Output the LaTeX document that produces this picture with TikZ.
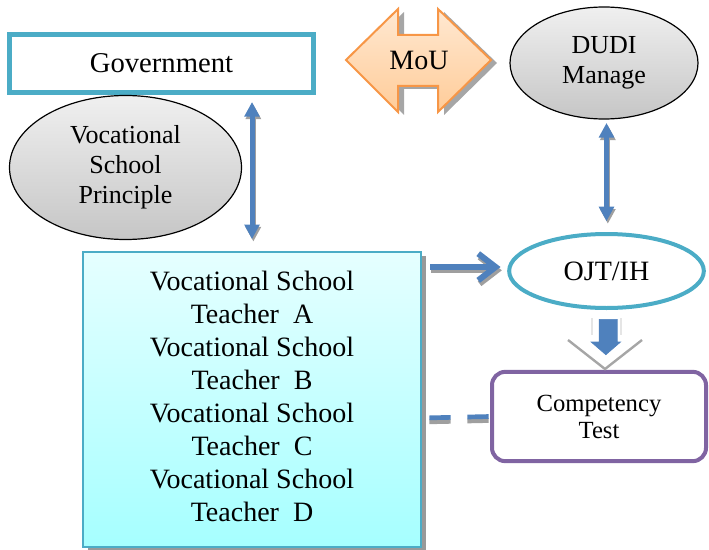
\documentclass[tikz,border=0pt]{standalone}
\usepackage{fontspec}
\setmainfont{Liberation Serif}
\usepackage{tikz}
\usetikzlibrary{positioning,arrows.meta,shapes.geometric,shadows}

\definecolor{tealline}{HTML}{4BACC6}
\definecolor{linkblue}{HTML}{4F81BD}
\definecolor{mouorange}{HTML}{F79646}
\definecolor{testpurple}{HTML}{8064A2}

\begin{document}
\begin{tikzpicture}[x=0.75pt,y=-0.75pt,
    every node/.style={align=center, inner sep=0pt},
    greyoval/.style={ellipse, draw=black, line width=0.9pt, top color=gray!12, bottom color=gray!45},
    dblarrow/.style={linkblue, line width=3.75pt, {Triangle[length=11pt,width=11pt]}-{Triangle[length=11pt,width=11pt]}},
    arrowshade/.style={gray!75, transform canvas={xshift=1pt,yshift=-1.8pt}}]
  \useasboundingbox (0,0) rectangle (709,549);

  % boxes and ovals
  \node[draw=tealline, line width=3.75pt, minimum width=228pt, minimum height=43.5pt,
        font=\fontsize{21.5}{24}\selectfont] (gov) at (161.5,63.5) {Government};
  \node[greyoval, minimum width=174pt, minimum height=108pt,
        font=\fontsize{19.5}{22.5}\selectfont] (principal) at (125.5,167.5) {Vocational\\School\\Principle};
  \node[greyoval, minimum width=141pt, minimum height=84pt,
        font=\fontsize{19.5}{22.5}\selectfont] (dudi) at (604,63) {\raisebox{-4pt}{\begin{tabular}{c}DUDI\\Manage\end{tabular}}};
  \node[ellipse, draw=tealline, line width=3pt, fill=white, minimum width=146pt, minimum height=55.5pt,
        font=\fontsize{21}{24}\selectfont] (ojt) at (606.5,271) {OJT/IH};
  \node[draw=testpurple, line width=3pt, rounded corners=10pt, minimum width=160.5pt, minimum height=67pt,
        font=\fontsize{18.5}{20.25}\selectfont] (comp) at (599,416.5) {Competency\\Test};
  \node[draw=tealline, line width=1.5pt, top color=cyan!10, bottom color=cyan!35,
        drop shadow={shadow xshift=3.5pt, shadow yshift=-2.5pt, fill=gray!80, opacity=1},
        minimum width=253.5pt, minimum height=221pt,
        font=\fontsize{21}{24.75}\selectfont] (teach) at (252,399.5)
        {\raisebox{3pt}{\begin{tabular}{c}Vocational School\\Teacher\ \ A\\Vocational School\\Teacher\ \ B\\
         Vocational School\\Teacher\ \ C\\Vocational School\\Teacher\ \ D\end{tabular}}};

  % MoU double block arrow
  \fill[gray!70] (352,63) -- (404,12) -- (404,38) -- (444,38) -- (444,12) -- (497,63)
    -- (444,115) -- (444,89) -- (404,89) -- (404,115) -- cycle;
  \draw[mouorange, line width=1.5pt, top color=orange!18, bottom color=orange!40]
    (346,60) -- (398,9) -- (398,35) -- (438,35) -- (438,9) -- (491,60)
    -- (438,112) -- (438,86) -- (398,86) -- (398,112) -- cycle;
  \node[font=\fontsize{21}{24}\selectfont] (mou) at (419,60) {MoU};

  % links
  \draw[dblarrow, arrowshade] ([yshift=-5.25pt]gov.south -| teach.north) -- ([yshift=9pt]teach.north);
  \draw[dblarrow] ([yshift=-5.25pt]gov.south -| teach.north) -- ([yshift=9pt]teach.north);
  \draw[dblarrow, arrowshade] ([yshift=-2.5pt]dudi.south -| ojt.north) -- ([yshift=8pt]ojt.north);
  \draw[dblarrow] ([yshift=-2.5pt]dudi.south -| ojt.north) -- ([yshift=8pt]ojt.north);

  \draw[gray!75, line width=4.5pt, -{Straight Barb[length=13pt,width=20pt]},
        transform canvas={xshift=1pt,yshift=-2.5pt}]
    ([xshift=6pt,yshift=3pt]teach.east |- ojt.west) -- ([xshift=-5pt,yshift=3pt]ojt.west);
  \draw[linkblue, line width=4.5pt, -{Straight Barb[length=13pt,width=20pt]}]
    ([xshift=6pt,yshift=3pt]teach.east |- ojt.west) -- ([xshift=-5pt,yshift=3pt]ojt.west);

  % grey chevron under the block arrow
  \draw[gray!20, line width=1pt] (592,318) -- (592,335) (621,318) -- (621,335);
  \draw[gray!70, line width=1.8pt] (568,340) -- (605,369) -- (642,340);
  \filldraw[linkblue, line width=0.5pt] ([xshift=-5.5pt,yshift=-7pt]ojt.south) -- ([xshift=8pt,yshift=-7pt]ojt.south)
    -- ([xshift=8pt,yshift=-24pt]ojt.south) -- ([xshift=10.5pt,yshift=-24pt]ojt.south)
    -- ([xshift=-0.5pt,yshift=-33.5pt]ojt.south) -- ([xshift=-11.5pt,yshift=-24pt]ojt.south)
    -- ([xshift=-5.5pt,yshift=-24pt]ojt.south) -- cycle;

  \draw[gray!75, line width=3.5pt, dash pattern=on 16pt off 12.5pt, transform canvas={yshift=-3pt}]
    ([xshift=5.5pt,yshift=-1pt]teach.east |- comp.west) -- (comp.west);
  \draw[linkblue, line width=3.5pt, dash pattern=on 16pt off 12.5pt]
    ([xshift=5.5pt,yshift=-1pt]teach.east |- comp.west) -- (comp.west);
\end{tikzpicture}
\end{document}
